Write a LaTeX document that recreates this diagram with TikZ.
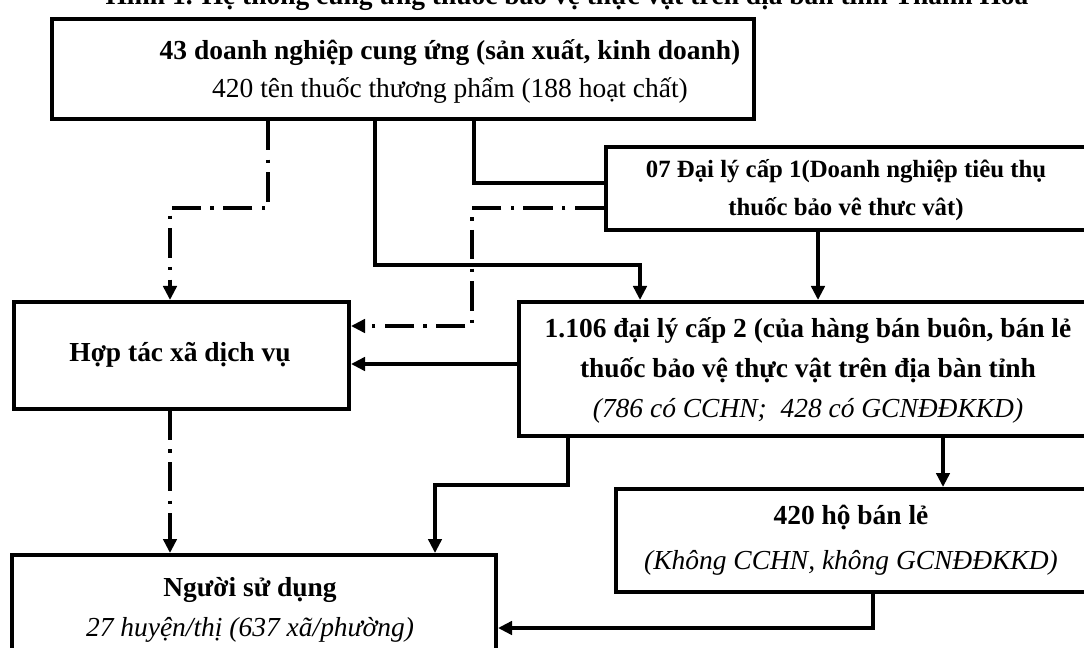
\documentclass[tikz,border=0pt]{standalone}
\usepackage{fontspec}
\setmainfont{Liberation Serif}
\usetikzlibrary{arrows.meta, calc, positioning}

\tikzset{
    box/.style={draw, line width=3pt, inner sep=0pt, anchor=north west},
    txt/.style={align=center, inner sep=0pt},
    plain/.style={line width=2.6pt},
    link/.style={plain, -{Triangle[length=10.5pt, width=10pt]}},
    dashdot/.style={link, dash pattern=on 22pt off 7pt on 2.5pt off 7pt}
}

\begin{document}
\begin{tikzpicture}[x=0.75pt, y=-0.75pt]
    \useasboundingbox (0, 0) rectangle (1084, 648);

    \node[font=\fontsize{20.6}{24}\selectfont\bfseries, anchor=base] (title) at (567, 5) {Hình 1. Hệ thống cung ứng thuốc bảo vệ thực vật trên địa bàn tỉnh Thanh Hóa};

    \node[box, minimum width=526.5pt, minimum height=75pt] (sup) at (50, 17) {};
    \node[box, minimum width=372pt, minimum height=62.25pt] (ag1) at (604, 145) {};
    \node[box, minimum width=251.25pt, minimum height=80pt] (coop) at (12, 300) {};
    \node[box, minimum width=437.25pt, minimum height=100.5pt] (ag2) at (517, 300) {};
    \node[box, minimum width=364.5pt, minimum height=77.25pt] (retail) at (614, 487) {};
    \node[box, minimum width=363pt, minimum height=90pt] (user) at (10, 553) {};

    \node[txt, font=\fontsize{20.6}{28.5}\selectfont] (supT) at (450, 71)
        {\textbf{43 doanh nghiệp cung ứng (sản xuất, kinh doanh)}\\420 tên thuốc thương phẩm (188 hoạt chất)};
    \node[txt, font=\fontsize{18.6}{29}\selectfont\bfseries] (ag1T) at (846, 190)
        {07 Đại lý cấp 1(Doanh nghiệp tiêu thụ\\thuốc bảo vê thưc vât)};
    \node[txt, font=\fontsize{20.6}{28}\selectfont\bfseries] (coopT) at (180, 355) {Hợp tác xã dịch vụ};
    \node[txt, font=\fontsize{20.6}{30}\selectfont] (ag2T) at (808, 370)
        {\textbf{1.106 đại lý cấp 2 (của hàng bán buôn, bán lẻ}\\\textbf{thuốc bảo vệ thực vật trên địa bàn tỉnh}\\\textit{(786 có CCHN;~ 428 có GCNĐĐKKD)}};
    \node[txt, font=\fontsize{20.6}{34}\selectfont] (retailT) at (851, 540)
        {\textbf{420 hộ bán lẻ}\\\textit{(Không CCHN, không GCNĐĐKKD)}};
    \node[txt, font=\fontsize{20.6}{30}\selectfont] (userT) at (250, 610)
        {\textbf{Người sử dụng}\\\textit{27 huyện/thị (637 xã/phường)}};

    \coordinate (b1) at (268, 208);
    \coordinate (b2) at (170, 208);
    \coordinate (b3) at (375, 265);
    \coordinate (b4) at (640, 265);
    \coordinate (b5) at (474, 183);
    \coordinate (b6) at (472, 208);
    \coordinate (b7) at (472, 326);
    \coordinate (b8) at (430, 364);
    \coordinate (b9) at (818, 265);
    \coordinate (b10) at (568, 485);
    \coordinate (b11) at (435, 485);
    \coordinate (b12) at (943, 460);
    \coordinate (b13) at (873, 628);

    \draw[dashdot] (sup.south -| b1) -- (b1) -- (b2) -- (coop.north -| b2);
    \draw[link] (sup.south -| b3) -- (b3) -- (b4) -- (ag2.north -| b4);
    \draw[plain] (sup.south -| b5) -- (b5) -- (ag1.west |- b5);
    \draw[dashdot] (ag1.west |- b6) -- (b6) -- (b7) -- (coop.east |- b7);
    \draw[link] (ag2.west |- b8) -- (coop.east |- b8);
    \draw[link] (ag1.south -| b9) -- (ag2.north -| b9);
    \draw[dashdot] (coop.south -| b2) -- (user.north -| b2);
    \draw[link] (ag2.south -| b10) -- (b10) -- (b11) -- (user.north -| b11);
    \draw[link] (ag2.south -| b12) -- (retail.north -| b12);
    \draw[link] (retail.south -| b13) -- (b13) -- (user.east |- b13);
\end{tikzpicture}
\end{document}
